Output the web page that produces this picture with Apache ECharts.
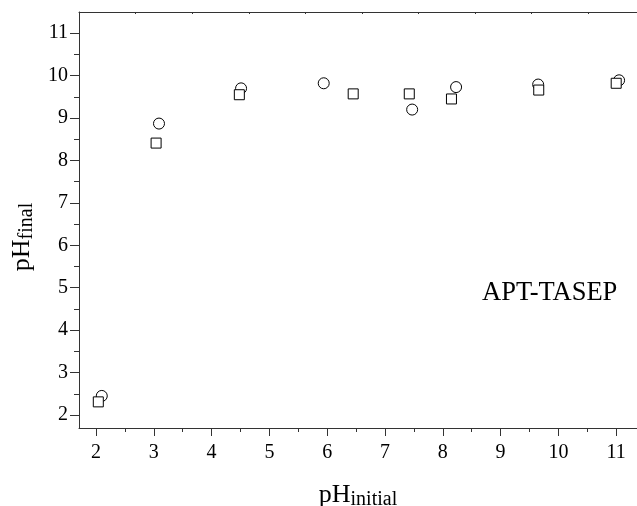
<!DOCTYPE html>
<html>
<head>
<meta charset="utf-8">
<script src="https://cdn.jsdelivr.net/npm/echarts@6/dist/echarts.min.js"></script>
<style>
html,body{margin:0;padding:0;background:#fff;}
#chart{width:637px;height:506px;}
</style>
</head>
<body>
<div id="chart"></div>
<script>
// Data
const circleX = [2.10, 3.09, 4.51, 5.94, 7.47, 8.23, 9.65, 11.05];
const circleY = [2.45, 8.87, 9.70, 9.82, 9.20, 9.73, 9.79, 9.89];
const squareX = [2.04, 3.04, 4.48, 6.45, 7.42, 8.15, 9.66, 11.00];
const squareY = [2.31, 8.41, 9.55, 9.57, 9.57, 9.45, 9.66, 9.82];
const xMajorTicks = [2, 3, 4, 5, 6, 7, 8, 9, 10, 11];
const xMinorTicks = [2.5, 3.5, 4.5, 5.5, 6.5, 7.5, 8.5, 9.5, 10.5];
const yMajorTicks = [2, 3, 4, 5, 6, 7, 8, 9, 10, 11];
const yMinorTicks = [2.5, 3.5, 4.5, 5.5, 6.5, 7.5, 8.5, 9.5, 10.5];
const topTicks = [1, 2, 3, 4, 5, 6, 7, 8, 9];
const annotation = 'APT-TASEP';

const FONT = 'Liberation Serif';
const AX = '#333';
const xMin = 1.706, xMax = 11.36, yMin = 1.694, yMax = 11.5;

const chart = echarts.init(document.getElementById('chart'), null, {renderer: 'canvas'});
const nameRich = {
  m: {fontFamily: FONT, fontSize: 26, lineHeight: 30, color: '#000'},
  s: {fontFamily: FONT, fontSize: 20, lineHeight: 10, verticalAlign: 'bottom', color: '#000'}
};
chart.setOption({
  animation: false,
  grid: {left: 79, top: 12, right: 0, bottom: 78, containLabel: false, outerBoundsMode: 'none'},
  xAxis: [
    {
      type: 'value', min: xMin, max: xMax, position: 'bottom',
      axisLine: {show: true, onZero: false, lineStyle: {color: AX, width: 1}},
      axisTick: {show: true, inside: false, length: 8, customValues: xMajorTicks, lineStyle: {color: AX}},
      axisLabel: {show: true, customValues: xMajorTicks, margin: 15, fontFamily: FONT, fontSize: 20, color: '#000'},
      splitLine: {show: false},
      name: '{m|pH}{s|initial}', nameLocation: 'middle', nameGap: 52,
      nameTextStyle: {rich: nameRich}
    },
    {
      type: 'value', min: xMin, max: xMax, position: 'bottom',
      axisLine: {show: false, onZero: false},
      axisTick: {show: true, inside: false, length: 4, customValues: xMinorTicks, lineStyle: {color: AX}},
      axisLabel: {show: false},
      splitLine: {show: false}
    },
    {
      type: 'value', min: 0, max: 9.86, position: 'top',
      axisLine: {show: true, onZero: false, lineStyle: {color: AX, width: 1}},
      axisTick: {show: true, inside: true, length: 2, customValues: topTicks, lineStyle: {color: AX}},
      axisLabel: {show: false},
      splitLine: {show: false}
    }
  ],
  yAxis: [
    {
      type: 'value', min: yMin, max: yMax, position: 'left',
      axisLine: {show: true, onZero: false, lineStyle: {color: AX, width: 1}},
      axisTick: {show: true, inside: false, length: 9, customValues: yMajorTicks, lineStyle: {color: AX}},
      axisLabel: {show: true, customValues: yMajorTicks, margin: 11, fontFamily: FONT, fontSize: 20, color: '#000'},
      splitLine: {show: false},
      name: '{m|pH}{s|final}', nameLocation: 'middle', nameRotate: 90, nameGap: 39,
      nameTextStyle: {rich: nameRich, padding: [0, 34, 0, 0]}
    },
    {
      type: 'value', min: yMin, max: yMax, position: 'left',
      axisLine: {show: false, onZero: false},
      axisTick: {show: true, inside: false, length: 5, customValues: yMinorTicks, lineStyle: {color: AX}},
      axisLabel: {show: false},
      splitLine: {show: false}
    }
  ],
  graphic: [{
    type: 'text', left: 482, top: 280,
    style: {text: annotation, fontFamily: FONT, fontSize: 26.5, fill: '#000'}
  }],
  series: [
    {
      type: 'scatter', xAxisIndex: 0, yAxisIndex: 0,
      symbol: 'circle', symbolSize: 11,
      itemStyle: {color: '#fff', borderColor: '#000', borderWidth: 1, opacity: 1},
      emphasis: {disabled: true}, silent: true,
      data: circleX.map((x, i) => [x, circleY[i]])
    },
    {
      type: 'scatter', xAxisIndex: 0, yAxisIndex: 0,
      symbol: 'rect', symbolSize: 10,
      itemStyle: {color: '#fff', borderColor: '#000', borderWidth: 1, opacity: 1},
      emphasis: {disabled: true}, silent: true,
      data: squareX.map((x, i) => [x, squareY[i]])
    }
  ]
});
</script>
</body>
</html>
